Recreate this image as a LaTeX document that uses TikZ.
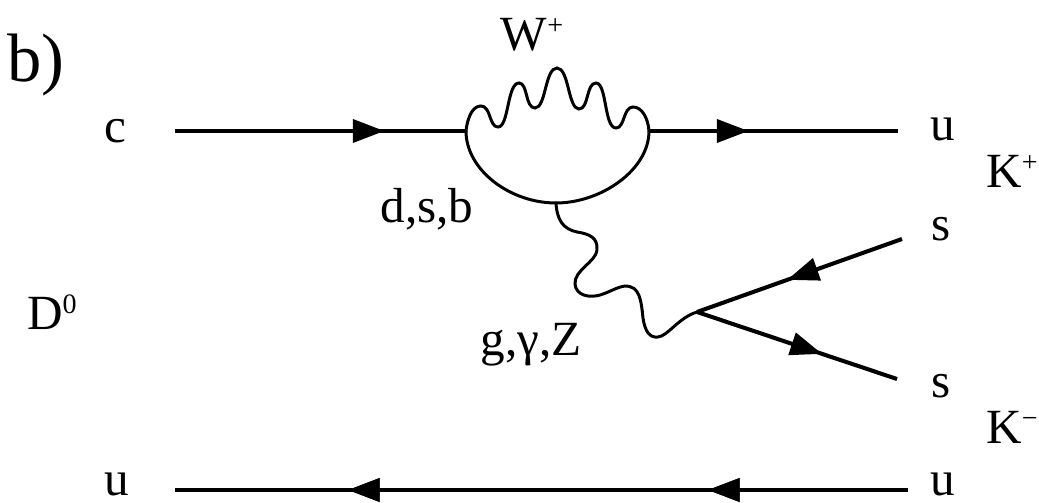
\documentclass[tikz,border=0pt]{standalone}
\usepackage{fontspec}
\setmainfont{Liberation Serif}
\usetikzlibrary{arrows.meta, decorations.markings}
\newcommand{\supr}[1]{\raisebox{9pt}{\fontsize{16}{18}\selectfont #1}}
\tikzset{
	quark/.style={line width=2.3pt},
	midtip/.style={postaction={decorate},decoration={markings,mark=at position #1 with {\arrow{Triangle[length=18pt,width=13pt]}}}},
	lbl/.style={inner sep=0pt,font=\fontsize{28}{30}\selectfont},
	wavy/.style={line width=1.7pt,line cap=round}
}
\begin{document}
\begin{tikzpicture}[x=0.02cm,y=-0.02cm]
	\useasboundingbox (0,0) rectangle (1039,503);
	% external legs
	\coordinate (C) at (175,131);
	\coordinate (LoopL) at (466,131);
	\coordinate (LoopR) at (649,131);
	\coordinate (U1) at (898,131);
	\coordinate (LoopB) at (556,203);
	\coordinate (Vtx) at (697,312);
	\coordinate (S1) at (902,239);
	\coordinate (S2) at (897,379);
	\coordinate (U2) at (908,490);
	\coordinate (U3) at (175,490);
	\draw[quark,midtip=0.72] (C) -- (LoopL);
	\draw[quark,midtip=0.40] (LoopR) -- (U1);
	\draw[quark,midtip=0.56] (S1) -- (Vtx);
	\draw[quark,midtip=0.625] (Vtx) -- (S2);
	\draw[quark,midtip=0.273,midtip=0.764] (U2) -- (U3);
	% loop
	\draw[wavy] (LoopL) .. controls (466,170) and (510,203) .. (LoopB) .. controls (601,203) and (649,170) .. (LoopR);
	\draw[wavy] (LoopL) .. controls (468,114) and (474,106) .. (481,106)
		.. controls (491,106) and (489,127) .. (498,127)
		.. controls (509,127) and (507,83) .. (519,83)
		.. controls (528,83) and (525,108) .. (535,108)
		.. controls (546,108) and (545,68) .. (557,68)
		.. controls (569,68) and (568,109) .. (579,109)
		.. controls (589,109) and (586,83) .. (596,83)
		.. controls (607,83) and (604,128) .. (616,128)
		.. controls (625,128) and (623,107) .. (633,107)
		.. controls (642,107) and (648,118) .. (LoopR);
	% gluon
	\draw[wavy] (LoopB) .. controls (557,220) and (563,229) .. (577,232)
		.. controls (590,234) and (598,238) .. (597,250)
		.. controls (596,262) and (574,270) .. (575,284)
		.. controls (576,296) and (590,298) .. (600,295)
		.. controls (610,292) and (617,287) .. (625,286)
		.. controls (640,286) and (641,300) .. (643,318)
		.. controls (645,332) and (650,338) .. (658,337)
		.. controls (668,336) and (678,318) .. (Vtx);
	% labels
	\node[lbl,font=\fontsize{39}{42}\selectfont,anchor=west] (panel) at (7,65) {b)};
	\node[lbl] (lc) at (115,131) {c};
	\node[lbl] (lW) at (532,35) {W\supr{+}};
	\node[lbl] (lu1) at (943,129) {u};
	\node[lbl] (lKp) at (1012,171) {K\supr{+}};
	\node[lbl] (ldsb) at (427,209) {d,s,b};
	\node[lbl] (ls1) at (941,229) {s};
	\node[lbl] (lD) at (52,312) {D\supr{0}};
	\node[lbl] (lgam) at (531,345) {g,γ,Z};
	\node[lbl] (ls2) at (941,386) {s};
	\node[lbl] (lKm) at (1012,427) {K\supr{−}};
	\node[lbl] (lu2) at (117,484) {u};
	\node[lbl] (lu3) at (943,484) {u};
\end{tikzpicture}
\end{document}
